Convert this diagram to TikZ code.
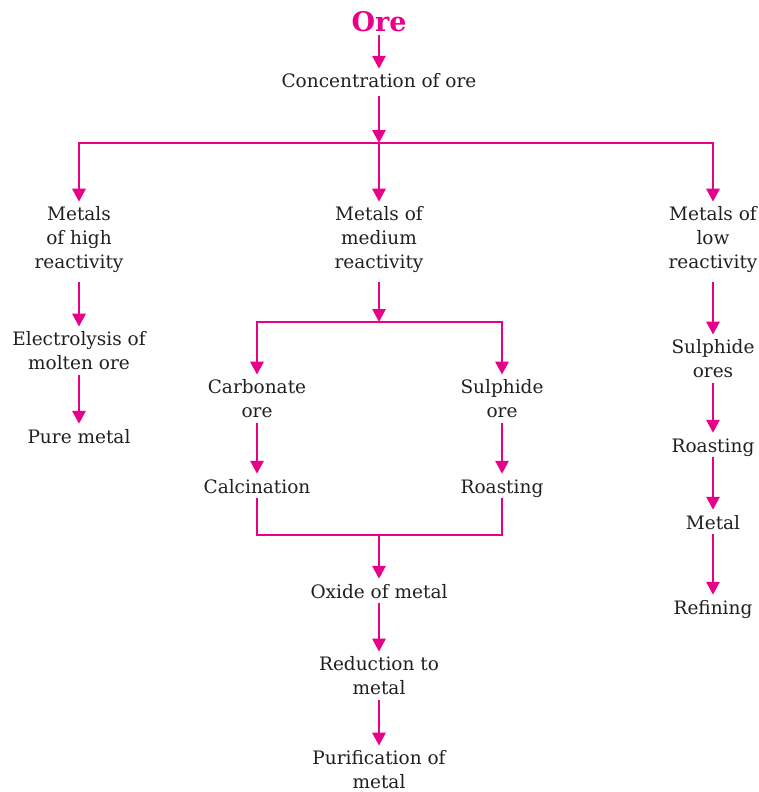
\documentclass[tikz,border=0pt]{standalone}
\usepackage{fontspec}
\setmainfont{DejaVu Serif}
\usetikzlibrary{arrows.meta}
\definecolor{pk}{RGB}{233,0,137}
\definecolor{tx}{RGB}{35,31,32}
\begin{document}
\begin{tikzpicture}[x=1pt,y=-1pt,
  lbl/.style={font=\fontsize{18.5}{24}\selectfont, text=tx, align=center, inner xsep=0pt, inner ysep=5pt},
  one/.style={lbl, text height=14pt, text depth=0pt},
  ln/.style={draw=pk, line width=2.8pt},
  arr/.style={ln, -{Triangle[length=13pt,width=13pt]}},
]
\useasboundingbox (0,0) rectangle (759,792);
\node[font=\fontsize{27}{28}\bfseries\selectfont, text=pk, inner sep=3pt] (ore) at (379,22) {Ore};
\node[one] (conc) at (379,81) {Concentration of ore};
\coordinate (h1) at (379,143);
\node[lbl] (high) at (79,240) {Metals\\of high\\reactivity};
\node[lbl] (med) at (379,240) {Metals of\\medium\\reactivity};
\node[lbl] (low) at (713,240) {Metals of\\low\\reactivity};
\node[lbl] (elec) at (79,351) {Electrolysis of\\molten ore};
\node[one] (pure) at (79,436) {Pure metal};
\coordinate (h2) at (379,322);
\node[lbl] (carb) at (257,399) {Carbonate\\ore};
\node[lbl] (sulm) at (502,399) {Sulphide\\ore};
\node[one] (calc) at (257,486) {Calcination};
\node[one] (roam) at (502,486) {Roasting};
\coordinate (h3) at (379,535);
\node[one] (oxide) at (379,591) {Oxide of metal};
\node[lbl] (red) at (379,676) {Reduction to\\metal};
\node[lbl] (pur) at (379,770) {Purification of\\metal};
\node[lbl] (sulr) at (713,359) {Sulphide\\ores};
\node[one] (roar) at (713,445) {Roasting};
\node[one] (metal) at (713,522) {Metal};
\node[one] (ref) at (713,607) {Refining};
% connectors
\draw[arr] (ore) -- (conc);
\draw[arr, shorten <=3pt] (conc) -- (h1);
\draw[ln] (high.north |- h1) -- (low.north |- h1);
\draw[arr] (h1) -| (high.north);
\draw[arr] (h1) -- (med.north);
\draw[arr] (h1) -| (low.north);
\draw[arr, shorten <=4pt] (high) -- (elec);
\draw[arr] (elec) -- (pure);
\draw[arr, shorten <=4pt] (med) -- (h2);
\draw[ln] (carb.north |- h2) -- (sulm.north |- h2);
\draw[arr] (h2) -| (carb.north);
\draw[arr] (h2) -| (sulm.north);
\draw[arr] (carb) -- (calc);
\draw[arr] (sulm) -- (roam);
\draw[ln] (calc.south) |- (h3) -| (roam.south);
\draw[arr] (h3) -- (oxide);
\draw[arr] (oxide) -- (red);
\draw[arr] (red) -- (pur);
\draw[arr, shorten <=4pt] (low) -- (sulr);
\draw[arr] (sulr) -- (roar);
\draw[arr] (roar) -- (metal);
\draw[arr] (metal) -- (ref);
\end{tikzpicture}
\end{document}
